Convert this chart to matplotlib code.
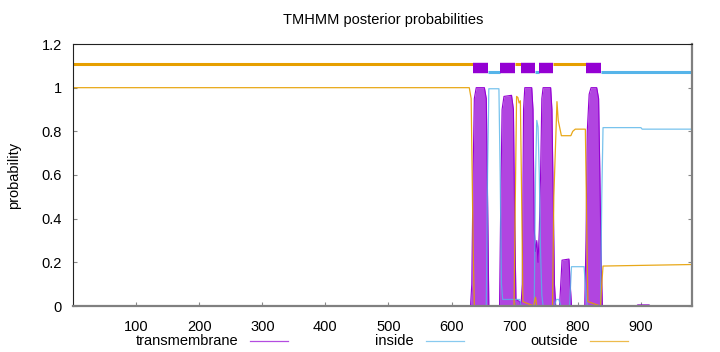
import numpy as np
import matplotlib.pyplot as plt
from matplotlib.lines import Line2D

plt.rcParams['font.family'] = ['Liberation Sans', 'DejaVu Sans']

seq_len = 981

# posterior probability curves (residue, probability)
tm_pos = [1, 630, 632, 634, 636, 639, 652, 655, 657, 659,
          676, 678, 680, 683, 695, 698, 700, 702, 708, 710,
          712, 714, 716, 727, 729, 731, 733, 735, 737, 739,
          741, 743, 745, 757, 759, 761, 763, 765,
          771, 773, 775, 786, 788, 790,
          811, 813, 815, 818, 821, 830, 833, 835, 837, 839,
          893, 895, 913, 915, 981]
tm_prob = [0, 0, 0.1, 0.6, 0.95, 1.0, 1.0, 0.95, 0.5, 0,
           0, 0.5, 0.9, 0.96, 0.965, 0.9, 0.4, 0.03, 0.02, 0,
           0.1, 0.9, 1.0, 1.0, 0.9, 0.35, 0.25, 0.3, 0.2, 0.35,
           0.6, 0.95, 1.0, 1.0, 0.9, 0.5, 0.1, 0,
           0, 0.1, 0.21, 0.215, 0.1, 0,
           0, 0.3, 0.8, 0.97, 1.0, 1.0, 0.95, 0.6, 0.2, 0,
           0, 0.005, 0.005, 0, 0]

in_pos = [1, 655, 657, 659, 675, 677, 679, 681, 708, 710,
          731, 733, 735, 737, 739, 741, 743, 745,
          763, 766, 770, 773, 787, 790, 810, 813, 815,
          836, 838, 840, 900, 902, 981]
in_prob = [0, 0, 0.6, 0.995, 0.995, 0.6, 0.1, 0.03, 0.03, 0,
           0, 0.6, 0.85, 0.82, 0.6, 0.25, 0.05, 0,
           0, 0.03, 0.03, 0, 0, 0.18, 0.18, 0.05, 0,
           0, 0.5, 0.817, 0.817, 0.81, 0.81]

out_pos = [1, 628, 631, 634, 636, 699, 701, 703, 705, 707, 709, 711, 713,
           730, 733, 735, 760, 762, 767, 769, 774, 789, 792, 796, 812, 814, 816,
           836, 838, 840, 900, 981]
out_prob = [1.0, 1.0, 0.95, 0.3, 0, 0, 0.5, 0.96, 0.955, 0.93, 0.94, 0.5, 0.02,
            0.0, 0.04, 0.0, 0, 0.5, 0.936, 0.85, 0.78, 0.78, 0.80, 0.81, 0.81, 0.4, 0.02,
            0, 0.1, 0.183, 0.186, 0.19]

# predicted topology (start, end)
outside_segs = [(1, 633), (701, 709), (761, 813)]
tm_segs = [(634, 657), (677, 700), (710, 731), (739, 760), (814, 836)]
inside_segs = [(658, 676), (732, 738), (837, 981)]

c_tm = '#9400d3'
c_in = '#56b4e9'
c_out = '#e69f00'

fig = plt.figure(figsize=(7.2, 3.52), dpi=100)
ax = fig.add_axes([73 / 720, 46 / 352, 619 / 720, 262 / 352])

ax.fill_between(tm_pos, 0, tm_prob, color='#b145e0', lw=0)
ax.plot(tm_pos, tm_prob, color=c_tm, lw=0.8)
ax.plot(in_pos, in_prob, color=c_in, lw=0.9, alpha=0.8)
ax.plot(out_pos, out_prob, color=c_out, lw=0.9, alpha=0.9)

for s, e in outside_segs:
    ax.plot([s - 0.5, e + 0.5], [1.11, 1.11], color=c_out, lw=2.2, solid_capstyle='butt')
for s, e in inside_segs:
    ax.plot([s - 0.5, e + 0.5], [1.07, 1.07], color=c_in, lw=2.2, solid_capstyle='butt')
for s, e in tm_segs:
    ax.plot([s - 0.5, e + 0.5], [1.09, 1.09], color=c_tm, lw=7.5, solid_capstyle='butt')

ax.set_xlim(0, seq_len)
ax.set_ylim(0, 1.2)
ax.set_xticks([100, 200, 300, 400, 500, 600, 700, 800, 900])
ax.set_yticks([0, 0.2, 0.4, 0.6, 0.8, 1.0, 1.2])
ax.set_yticklabels(['0', '0.2', '0.4', '0.6', '0.8', '1', '1.2'])
ax.tick_params(direction='in', length=3, color='#888888', labelsize=10.5)
ax.tick_params(axis='y', right=True, pad=8)
ax.tick_params(axis='x', pad=10)
for side in ['left', 'top']:
    ax.spines[side].set_color('#222222')
    ax.spines[side].set_linewidth(0.8)
for side in ['right', 'bottom']:
    ax.spines[side].set_color('#808080')
    ax.spines[side].set_linewidth(1.6)

fig.text(14 / 720, 1 - 175 / 352, 'probability', rotation=90,
         ha='center', va='center', fontsize=10.5)
fig.text(383 / 720, 1 - 20 / 352, 'TMHMM posterior probabilities',
         ha='center', va='center', fontsize=10.5)

# legend row under the axis, gnuplot style
legend_items = [('transmembrane', 238, c_tm), ('inside', 414, c_in), ('outside', 578, c_out)]
for label, x_end, col in legend_items:
    fig.text(x_end / 720, 1 - 341 / 352, label, ha='right', va='center', fontsize=10.5)
    fig.add_artist(Line2D([(x_end + 12) / 720, (x_end + 50) / 720], [1 - 341 / 352] * 2,
                          color=col, lw=0.9, alpha=0.7))

fig.savefig('out.png', dpi=100)
